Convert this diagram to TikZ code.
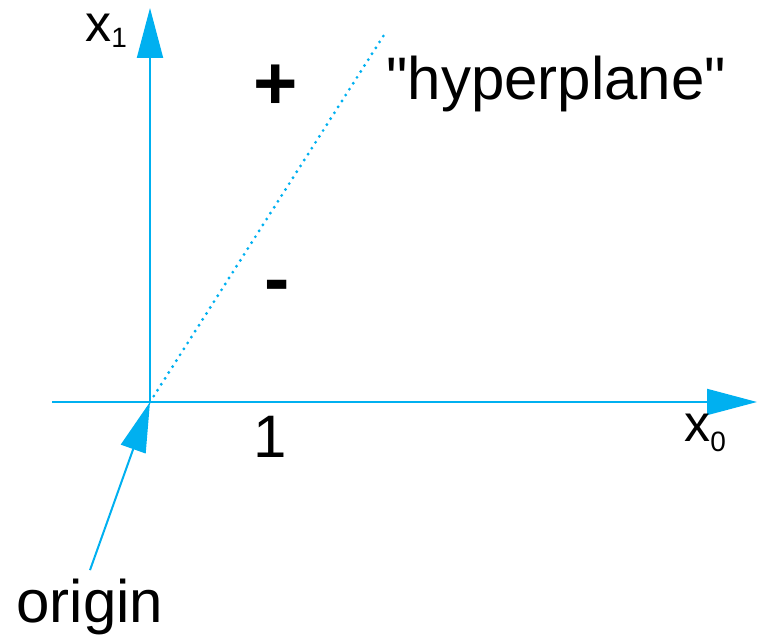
\documentclass[tikz,border=0pt]{standalone}
\usepackage{fontspec}
\setmainfont{Liberation Sans}[Ligatures=TeXOff]
\usetikzlibrary{arrows.meta,positioning}
\definecolor{axisblue}{HTML}{00B0F0}
\tikzset{
  axisline/.style={line width=1pt, draw=axisblue},
  arr/.style={axisline, -{Triangle[length=25pt,width=13pt]}},
  hyperline/.style={draw=axisblue, line width=1.6pt, line cap=round,
    dash pattern=on 0pt off 3.5pt},
  lbl/.style={inner sep=0pt, anchor=base, font=\fontsize{30}{36}\selectfont},
  signlbl/.style={inner sep=0pt, anchor=base, font=\fontsize{38}{44}\selectfont\bfseries},
  axlbl/.style={inner sep=0pt, anchor=base west, font=\fontsize{26}{30}\selectfont}
}

\begin{document}
\begin{tikzpicture}[x=0.5pt,y=-0.5pt]
  \useasboundingbox (0,0) rectangle (757,636);
  % axes
  \coordinate (O) at (150,402);
  \coordinate (xstart) at (52,402);
  \coordinate (xend) at (757,402);
  \coordinate (yend) at (150,8);
  \coordinate (hend) at (384,35);
  \draw[axisline] (xstart) -- (O);
  \draw[arr] (O) -- (xend);
  \draw[arr] (O) -- (yend);
  \draw[hyperline] (O) -- (hend);
  % labels
  \node[axlbl] (xone) at (85,42) {x\raisebox{-3pt}{\fontsize{14}{16}\selectfont 1}};
  \node[axlbl] (xzero) at (684,442) {x\raisebox{-5pt}{\fontsize{14}{16}\selectfont 0}};
  \node[signlbl] (plus) at (276,110) {+};
  \node[signlbl] (minus) at (277,305) {-};
  \node[lbl] (one) at (270,458) {1};
  \node[lbl, anchor=base west] (hyp) at (386,100) {"hyperplane"};
  \node[lbl, inner sep=4.5pt] (orig) at (90,623) {origin};
  \draw[arr] (orig.north) -- (O);
\end{tikzpicture}
\end{document}
